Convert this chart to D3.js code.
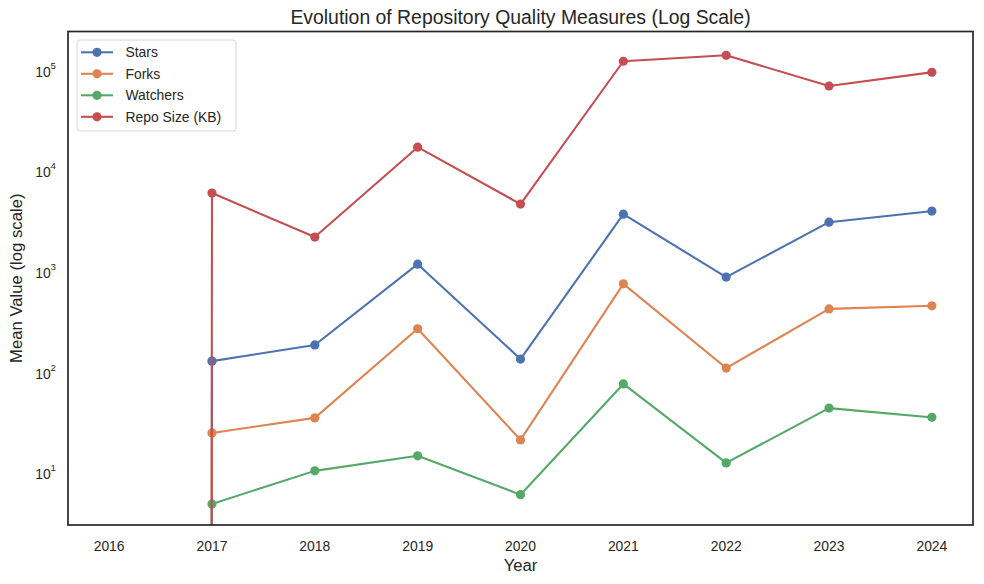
<!DOCTYPE html>
<html>
<head>
<meta charset="utf-8">
<script src="https://cdn.jsdelivr.net/npm/d3@7"></script>
<style>
    body { margin: 0; background: #fff; }
    svg text { font-family: "Liberation Sans", Arial, sans-serif; fill: #262626; }
</style>
</head>
<body>
<svg id="chart" width="984" height="584"></svg>
<script>
// Data (2016 values are zero, which the log axis clips)
const years = [2016, 2017, 2018, 2019, 2020, 2021, 2022, 2023, 2024];
const stars = [0, 123, 178, 1130, 129, 3540, 840, 2950, 3800];
const forks = [0, 23.8, 33.6, 258, 20.3, 720, 105, 406, 436];
const watchers = [0, 4.7, 10, 14.1, 5.8, 73, 12, 42, 34];
const repoSize = [0, 5740, 2100, 16400, 4460, 117000, 134000, 66400, 91000];

const seriesNames = ["Stars", "Forks", "Watchers", "Repo Size (KB)"];
const seriesValues = [stars, forks, watchers, repoSize];
const seriesColors = ["#4C72B0", "#DD8452", "#55A868", "#C44E52"];

const yTicks = [10, 100, 1000, 10000, 100000];

const margin = { left: 68, right: 973, top: 31.5, bottom: 525 };

const svg = d3.select("#chart");

const x = d3.scaleLinear()
    .domain([2015.6, 2024.4])
    .range([margin.left, margin.right]);

const y = d3.scaleLog()
    .domain([2.9, 231000])
    .range([margin.bottom, margin.top]);

// matplotlib clips non-positive values to 1e-1000 in log space
const decadePx = y(1) - y(10);
const yPos = v => v > 0 ? y(v) : y(1) + 1000 * decadePx;

svg.append("defs").append("clipPath")
    .attr("id", "plot-clip")
    .append("rect")
    .attr("x", margin.left)
    .attr("y", margin.top)
    .attr("width", margin.right - margin.left)
    .attr("height", margin.bottom - margin.top);

// x tick labels
svg.append("g")
    .selectAll("text")
    .data(years)
    .join("text")
    .attr("x", d => x(d))
    .attr("y", 551)
    .attr("text-anchor", "middle")
    .style("font-size", "13.9px")
    .text(d => d);

// y tick labels as 10^n
const yLabels = svg.append("g")
    .selectAll("text")
    .data(yTicks)
    .join("text")
    .attr("x", 56)
    .attr("y", d => y(d) + 8.5)
    .attr("text-anchor", "end")
    .style("font-size", "13.9px");
yLabels.append("tspan").text("10");
yLabels.append("tspan")
    .attr("dy", -8)
    .style("font-size", "9.7px")
    .text(d => Math.round(Math.log10(d)));

// lines and markers
const plot = svg.append("g").attr("clip-path", "url(#plot-clip)");

const line = d3.line()
    .x((d, i) => x(years[i]))
    .y(d => yPos(d));

seriesValues.forEach((values, k) => {
    plot.append("path")
        .datum(values)
        .attr("d", line)
        .attr("fill", "none")
        .attr("stroke", seriesColors[k])
        .attr("stroke-width", 2.08)
        .attr("stroke-linejoin", "round")
        .attr("stroke-linecap", "square");

    plot.append("g")
        .selectAll("circle")
        .data(values.map((v, i) => ({ year: years[i], v: v })).filter(d => d.v > 0))
        .join("circle")
        .attr("cx", d => x(d.year))
        .attr("cy", d => y(d.v))
        .attr("r", 4.6)
        .attr("fill", seriesColors[k]);
});

// frame
svg.append("rect")
    .attr("x", margin.left)
    .attr("y", margin.top)
    .attr("width", margin.right - margin.left)
    .attr("height", margin.bottom - margin.top)
    .attr("fill", "none")
    .attr("stroke", "#262626")
    .attr("stroke-width", 1.7);

// title and axis labels
svg.append("text")
    .attr("x", (margin.left + margin.right) / 2)
    .attr("y", 24)
    .attr("text-anchor", "middle")
    .style("font-size", "19.4px")
    .text("Evolution of Repository Quality Measures (Log Scale)");

svg.append("text")
    .attr("x", (margin.left + margin.right) / 2)
    .attr("y", 571)
    .attr("text-anchor", "middle")
    .style("font-size", "16.7px")
    .text("Year");

svg.append("text")
    .attr("transform", `translate(22, ${(margin.top + margin.bottom) / 2}) rotate(-90)`)
    .attr("text-anchor", "middle")
    .style("font-size", "16.7px")
    .text("Mean Value (log scale)");

// legend
const legend = svg.append("g");
legend.append("rect")
    .attr("x", 77)
    .attr("y", 40)
    .attr("width", 159)
    .attr("height", 91)
    .attr("rx", 3)
    .attr("fill", "#fff")
    .attr("fill-opacity", 0.8)
    .attr("stroke", "#d6d6d6")
    .attr("stroke-width", 1);

const legendRows = legend.selectAll("g.row")
    .data(seriesNames)
    .join("g")
    .attr("class", "row")
    .attr("transform", (d, i) => `translate(0, ${52.3 + i * 21.5})`);

legendRows.append("line")
    .attr("x1", 81)
    .attr("x2", 113)
    .attr("stroke", (d, i) => seriesColors[i])
    .attr("stroke-width", 2.08);

legendRows.append("circle")
    .attr("cx", 97)
    .attr("r", 4.6)
    .attr("fill", (d, i) => seriesColors[i]);

legendRows.append("text")
    .attr("x", 125.5)
    .attr("y", 5)
    .style("font-size", "13.9px")
    .text(d => d);
</script>
</body>
</html>
